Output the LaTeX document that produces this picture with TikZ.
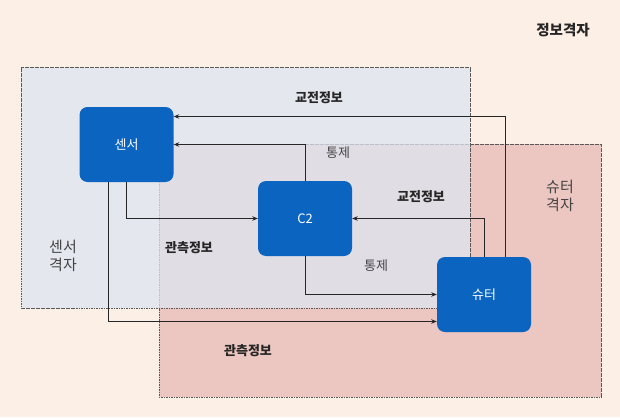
\documentclass[tikz,border=0pt]{standalone}
\usepackage{fontspec}
\setmainfont{Noto Sans CJK KR}
\usetikzlibrary{arrows.meta}

\definecolor{bgpeach}{HTML}{FCEFE5}
\definecolor{sensorgrid}{HTML}{DCE5F2}
\definecolor{shootergrid}{HTML}{ECC6C0}
\definecolor{unitblue}{HTML}{0B64C0}
\definecolor{labelgray}{HTML}{444444}

\begin{document}
\begin{tikzpicture}[
        x=1pt, y=-1pt,
        every node/.style={
            font=\fontsize{13}{15}\selectfont,
            inner sep=1pt
        },
        unit/.style={
            rectangle,
            rounded corners=8pt,
            fill=unitblue,
            text=white,
            minimum width=94pt,
            minimum height=75pt
        },
        gridbox/.style={
            draw=black!65,
            line width=1pt,
            dash pattern=on 1.6pt off 0.9pt
        },
        flow/.style={
            draw=black!85,
            line width=0.9pt,
            -{Stealth[length=5.5pt,width=4.5pt]}
        },
        info/.style={font=\fontsize{13}{15}\selectfont\bfseries, text=black!85},
        note/.style={text=labelgray, align=center}
    ]
        \useasboundingbox[fill=bgpeach] (0,0) rectangle (620,417);

        % grids
        \path[gridbox, fill=shootergrid] (159,144) rectangle (601,397);
        \path[gridbox, fill=sensorgrid, fill opacity=0.75] (21,68) rectangle (470,308);

        \node[info, font=\fontsize{14.5}{16}\selectfont\bfseries] (infogrid) at (563,30) {정보격자};
        \node[note, font=\fontsize{15}{18}\selectfont] (sensorgridlbl) at (63,256) {센서\\격자};
        \node[note, font=\fontsize{15}{18}\selectfont] (shootergridlbl) at (560,196) {슈터\\격자};

        % units
        \node[unit] (sensor) at (126.5,144.5) {센서};
        \node[unit] (c2) at (305,218.5) {C2};
        \node[unit] (shooter) at (484,294.5) {슈터};

        % connectors
        \draw[flow] ([xshift=21pt]shooter.north) |- ([yshift=28pt]sensor.east);
        \draw[flow] (c2.north) |- (sensor.east);
        \draw[flow] (sensor.south) |- (c2.west);
        \draw[flow] (shooter.north) |- (c2.east);
        \draw[flow] (c2.south) |- (shooter.west);
        \draw[flow] ([xshift=-18pt]sensor.south) |- ([yshift=-27pt]shooter.west);

        % labels
        \node[info] (engage1) at (319,98) {교전정보};
        \node[note] (ctrl1) at (338,153) {통제};
        \node[info] (engage2) at (421,197) {교전정보};
        \node[info] (observe1) at (189,248) {관측정보};
        \node[note] (ctrl2) at (376,266) {통제};
        \node[info] (observe2) at (248,351) {관측정보};
\end{tikzpicture}
\end{document}
